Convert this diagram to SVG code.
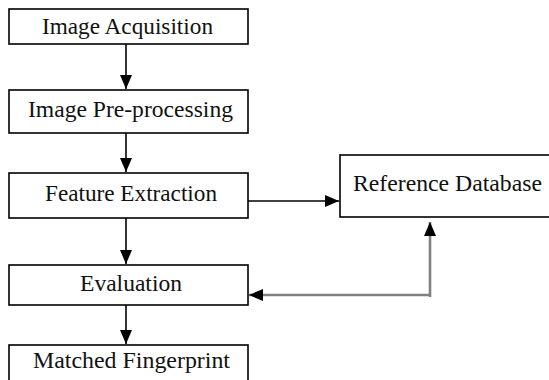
<svg xmlns="http://www.w3.org/2000/svg" width="549" height="380" viewBox="0 0 549 380">
<style>
.box{fill:#fff;stroke:#000;stroke-width:1.6}
.lbl{font-family:"Liberation Serif","Times New Roman",serif;font-size:24px;fill:#111;text-anchor:middle}
.conn{fill:none;stroke:#000;stroke-width:1.6}
.gconn{fill:none;stroke:#808080;stroke-width:2.6}
</style>
<defs>
<marker id="ah" viewBox="0 0 14 12" refX="14" refY="6" markerWidth="14" markerHeight="12" markerUnits="userSpaceOnUse" orient="auto">
<path d="M0,0 L14,6 L0,12 z" fill="#000"/>
</marker>
</defs>
<rect width="549" height="380" fill="#fff"/>
<g id="n1"><rect class="box" x="9" y="9" width="239" height="35"/><text class="lbl" x="127.5" y="34" textLength="171" lengthAdjust="spacingAndGlyphs">Image Acquisition</text></g>
<g id="n2"><rect class="box" x="9" y="90" width="239" height="43"/><text class="lbl" x="130.5" y="117" textLength="205" lengthAdjust="spacingAndGlyphs">Image Pre-processing</text></g>
<g id="n3"><rect class="box" x="9" y="173" width="239" height="45"/><text class="lbl" x="131" y="201" textLength="172" lengthAdjust="spacingAndGlyphs">Feature Extraction</text></g>
<g id="n4"><rect class="box" x="9" y="265" width="239" height="40"/><text class="lbl" x="131" y="291" textLength="102" lengthAdjust="spacingAndGlyphs">Evaluation</text></g>
<g id="n5"><rect class="box" x="9" y="345" width="239" height="45"/><text class="lbl" x="131.5" y="368" textLength="197" lengthAdjust="spacingAndGlyphs">Matched Fingerprint</text></g>
<g id="n6"><rect class="box" x="340" y="155" width="220" height="62"/><text class="lbl" x="447.5" y="191" textLength="189" lengthAdjust="spacingAndGlyphs">Reference Database</text></g>
<g id="connectors">
<line class="conn" x1="126" y1="44" x2="126" y2="89" marker-end="url(#ah)"/>
<line class="conn" x1="126" y1="133" x2="126" y2="172" marker-end="url(#ah)"/>
<line class="conn" x1="126" y1="218" x2="126" y2="264" marker-end="url(#ah)"/>
<line class="conn" x1="126" y1="305" x2="126" y2="344" marker-end="url(#ah)"/>
<line class="conn" x1="248" y1="201" x2="339" y2="201" marker-end="url(#ah)"/>
<path class="gconn" d="M430,297 L430,222" marker-end="url(#ah)"/>
<path class="gconn" d="M430,295 L249,295" marker-end="url(#ah)"/>
</g>
</svg>
